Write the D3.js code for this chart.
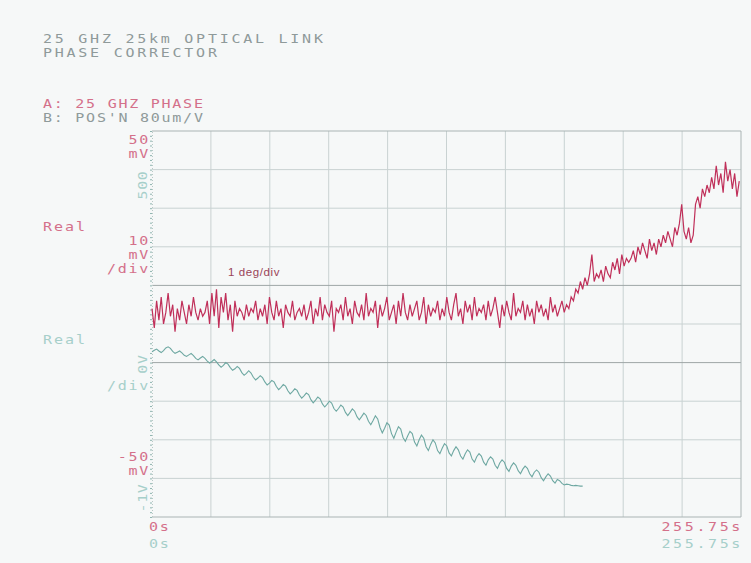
<!DOCTYPE html>
<html>
<head>
<meta charset="utf-8">
<script src="https://cdn.jsdelivr.net/npm/d3@7"></script>
<style>
  body { margin: 0; background: #f6f8f8; }
  svg text { font-family: "DejaVu Sans Mono", monospace; font-size: 12px; }
</style>
</head>
<body>
<svg id="chart" width="751" height="563"></svg>
<script>
// phase trace A (mV), one sample per second
const phaseA = [
  4, -1, 6, 1, 7, 0, 3, 8, 2, 5, -2, 4, 1, 6, 3, 0,
  5, 2, 7, 3, 1, 4, 2, 3, 6, 0, 8, 2, 9, -1, 7, 3,
  8, 1, 5, -2, 6, 2, 4, 3, 1, 5, 2, 4, 3, 6, 1, 4,
  2, 5, 0, 7, 3, 1, 6, 2, 4, -1, 5, 3, 2, 6, 1, 3,
  4, 2, 5, 1, 3, 6, 0, 4, 2, 7, 1, 5, 3, 2, 6, -2,
  4, 3, 5, 1, 7, 2, 4, 0, 6, 3, 2, 5, 1, 8, 2, 4,
  3, 6, -1, 5, 2, 4, 7, 1, 3, 5, 0, 6, 2, 8, 3, 1,
  5, 2, 4, 6, 1, 3, 7, 0, 5, 2, 4, 3, 6, 1, 4, 2,
  7, 3, 1, 5, 8, 2, 4, 0, 6, 3, 5, 1, 7, 2, 4, 3,
  5, 1, 6, 2, 4, 7, 3, -1, 5, 2, 6, 3, 1, 8, 2, 4,
  3, 6, 1, 5, 2, 4, 0, 6, 3, 5, 2, 4, 1, 7, 3, 5,
  2, 4, 6, 3, 5, 4, 7, 6, 9, 8, 11, 9, 12, 10, 13, 18,
  11, 13, 12, 14, 11, 15, 13, 12, 16, 14, 17, 13, 18, 15, 17, 16,
  17, 19, 16, 20, 18, 21, 19, 17, 22, 19, 21, 18, 22, 20, 23, 21,
  24, 22, 20, 25, 23, 26, 31, 24, 22, 25, 21, 23, 31, 33, 30, 35,
  33, 36, 34, 38, 35, 41, 36, 39, 34, 42, 37, 40, 35, 39, 33, 37
];

// position trace B (same vertical units), one sample per second
const positionB = [
  -7.2, -6.8, -6.5, -7.0, -7.4, -6.9, -6.2, -5.9, -6.3, -7.1, -7.6, -7.3, -7.0, -7.5, -8.1, -8.4,
  -8.0, -7.6, -8.2, -8.9, -9.3, -8.8, -8.4, -8.9, -9.6, -10.1, -9.7, -9.2, -9.8, -10.6, -11.2, -10.7,
  -10.0, -10.4, -11.3, -12.0, -11.6, -11.0, -11.5, -12.6, -13.3, -12.8, -12.1, -12.7, -13.8, -14.5, -14.0, -13.4,
  -13.9, -15.0, -15.8, -15.3, -14.6, -15.0, -16.2, -17.0, -16.4, -15.7, -16.1, -17.3, -18.1, -17.5, -16.8, -17.2,
  -18.4, -19.2, -18.6, -17.9, -18.3, -19.6, -20.4, -19.7, -18.9, -19.4, -20.7, -21.5, -20.8, -20.0, -20.5, -21.9,
  -22.6, -21.9, -21.0, -21.5, -22.9, -23.7, -22.9, -22.0, -22.6, -24.0, -24.8, -24.0, -23.1, -23.7, -25.2, -26.1,
  -25.0, -23.8, -24.6, -26.8, -28.2, -27.0, -25.6, -26.2, -28.4, -29.6, -28.0, -26.6, -27.2, -29.4, -30.4, -29.0,
  -27.8, -28.4, -30.6, -31.6, -30.0, -28.8, -29.6, -31.8, -32.8, -31.2, -30.0, -30.8, -32.8, -33.6, -32.2, -31.0,
  -31.6, -33.4, -34.2, -32.8, -31.8, -32.6, -34.2, -35.0, -33.6, -32.6, -33.2, -35.0, -35.8, -34.4, -33.6, -34.2,
  -35.8, -36.6, -35.2, -34.4, -35.0, -36.6, -37.4, -36.0, -35.2, -35.8, -37.4, -38.2, -36.8, -36.0, -36.6, -38.0,
  -38.8, -37.6, -36.8, -37.4, -38.8, -39.6, -38.4, -37.8, -38.4, -39.8, -40.6, -39.6, -38.8, -39.4, -40.6, -41.2,
  -40.3, -40.6, -41.3, -41.7, -41.5, -41.6, -41.8, -41.9, -41.8, -41.9, -42.0, -42.0
];

const titleLines = ['25 GHZ 25km OPTICAL LINK', 'PHASE CORRECTOR'];
const traceNames = ['A: 25 GHZ PHASE', "B: POS'N 80um/V"];
const timeSpan = [0, 255.75];
const voltRange = [-50, 50];

const svg = d3.select('#chart');
const plotLeft = 152, plotRight = 741, plotTop = 131, plotBottom = 517;

const x = d3.scaleLinear().domain(timeSpan).range([plotLeft, plotRight]);
const y = d3.scaleLinear().domain(voltRange).range([plotBottom, plotTop]);

const red = '#c0305a', redText = '#d4708a', cyan = '#6ea8a2', cyanText = '#a6cfca', grey = '#8f9a9a';

// plotter lettering: wide glyphs, stretched horizontally
const plotText = (str, px, py, color, opts = {}) => svg.append('text')
    .attr('transform', `translate(${px},${py}) ${opts.rotate ? 'rotate(-90) ' : ''}scale(1.25,1)`)
    .attr('text-anchor', opts.anchor || 'start')
    .attr('fill', color)
    .style('letter-spacing', (opts.spacing || 1.4) + 'px')
    .text(str);

// grid
const grid = svg.append('g');
grid.selectAll('.vline')
    .data(d3.range(1, 10))
    .enter()
    .append('line')
    .attr('x1', d => x(timeSpan[1] * d / 10))
    .attr('x2', d => x(timeSpan[1] * d / 10))
    .attr('y1', plotTop)
    .attr('y2', plotBottom)
    .attr('stroke', '#c9d2d2')
    .attr('stroke-width', 1);

grid.selectAll('.hline')
    .data(d3.range(-40, 50, 10))
    .enter()
    .append('line')
    .attr('x1', plotLeft)
    .attr('x2', plotRight)
    .attr('y1', d => y(d))
    .attr('y2', d => y(d))
    .attr('stroke', d => (d === 10 || d === -10) ? '#9ea6a6' : '#c9d2d2')
    .attr('stroke-width', 1);

svg.append('path')
    .attr('d', `M${plotLeft},${plotTop}H${plotRight}V${plotBottom}H${plotLeft}`)
    .attr('fill', 'none')
    .attr('stroke', '#aab4b4');

// dotted left axis
const axis = svg.append('g')
    .attr('transform', `translate(${plotLeft},0)`)
    .call(d3.axisLeft(y).tickValues(d3.range(-50, 50.1, 1.25)).tickSize(2).tickFormat(''));
axis.select('.domain').attr('stroke', '#b9c9c6').attr('stroke-dasharray', '1,2');
axis.selectAll('.tick line').attr('stroke', '#8fb5b0');

// traces
const line = d3.line()
    .x((d, i) => x(i))
    .y(d => y(d));

svg.append('path')
    .datum(positionB)
    .attr('d', line)
    .attr('fill', 'none')
    .attr('stroke', cyan)
    .attr('stroke-width', 1.1);

svg.append('path')
    .datum(phaseA)
    .attr('d', line)
    .attr('fill', 'none')
    .attr('stroke', red)
    .attr('stroke-width', 1.2);

// header text
titleLines.forEach((t, i) => plotText(t, 43, 43 + i * 14, grey, { spacing: 2.2 }));
traceNames.forEach((t, i) => plotText(t, 43, 108 + i * 14, i === 0 ? redText : grey));

// left annotations
const leftLabels = [
  { t: '50', y: 144, c: redText },
  { t: 'mV', y: 158, c: redText },
  { t: '10', y: 245, c: redText },
  { t: 'mV', y: 259, c: redText },
  { t: '/div', y: 273, c: redText },
  { t: '/div', y: 390, c: cyanText },
  { t: '-50', y: 461, c: redText },
  { t: 'mV', y: 475, c: redText }
];
leftLabels.forEach(d => plotText(d.t, 150, d.y, d.c, { anchor: 'end' }));

const rotLabels = [
  { t: '500', y: 185 },
  { t: '0V', y: 364 },
  { t: '-1V', y: 498 }
];
rotLabels.forEach(d => plotText(d.t, 147, d.y, cyanText, { anchor: 'middle', rotate: true, spacing: 0.5 }));

plotText('Real', 43, 231, redText, { spacing: 1.6 });
plotText('Real', 43, 344, cyanText, { spacing: 1.6 });

svg.append('text')
    .attr('x', 228)
    .attr('y', 276)
    .attr('fill', '#9a4458')
    .style('font-family', 'Liberation Sans, Arial, sans-serif')
    .style('font-size', '11.5px')
    .style('letter-spacing', '0.6px')
    .text('1 deg/div');

// bottom time labels
[[redText, 531], [cyanText, 548]].forEach(([c, yy]) => {
  plotText('0s', 149, yy, c);
  plotText(timeSpan[1] + 's', 743, yy, c, { anchor: 'end', spacing: 2.1 });
});
</script>
</body>
</html>
